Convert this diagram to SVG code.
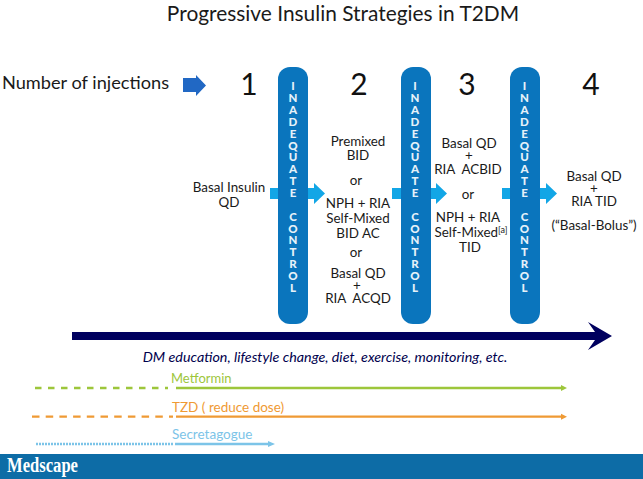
<svg xmlns="http://www.w3.org/2000/svg" width="643" height="479" viewBox="0 0 643 479">
<style>
text{font-family:"Lato","Open Sans",sans-serif;fill:#1a1a1a}
.b{font-size:13.400px;text-anchor:middle}
.n{font-size:30px;text-anchor:middle;fill:#111}
.pill{fill:#0a75bd}
.pl{font-size:11.500px;font-weight:900;fill:#e6f1f9;text-anchor:middle}
.ar{fill:#12a6e6}
.lab{font-size:13.500px}
</style>
<rect width="643" height="479" fill="#fff"/>
<text x="343" y="21" font-size="20.900" text-anchor="middle" id="title">Progressive Insulin Strategies in T2DM</text>
<text x="2" y="89" font-size="18.200">Number of injections</text>
<path d="M183 78H196V75L206 85.500L196 96V92H183Z" fill="#2168c4"/>
<g id="numbers"><text class="n" x="249" y="95">1</text><text class="n" x="359" y="95">2</text><text class="n" x="467" y="95">3</text><text class="n" x="591" y="95">4</text></g>
<g id="connectors">
<rect class="ar" x="270" y="188" width="9" height="11"/><path class="ar" d="M308 188H314V183L325 193.500L314 204V199H308Z"/>
<rect class="ar" x="392" y="188" width="10" height="11"/><path class="ar" d="M431 188H436V183L447 193.500L436 204V199H431Z"/>
<rect class="ar" x="502" y="188" width="9" height="11"/><path class="ar" d="M540 188H546V183L557 193.500L546 204V199H540Z"/>
<path id="timeline" d="M72 332H595L588 322L612 336L588 350L595 340H72Z" fill="#00005f"/>
<g fill="none" stroke-width="2.300">
<path d="M35 388H168" stroke="#9dc63b" stroke-dasharray="6.500 6.500"/><path d="M176 388H562" stroke="#9dc63b"/><path d="M561 385L567 388L561 391Z" fill="#9dc63b"/>
<path d="M32 416.700H173" stroke="#ef9a34" stroke-dasharray="7.500 6.200"/><path d="M176 416.700H562" stroke="#ef9a34"/><path d="M561 413.700L567 416.700L561 419.700Z" fill="#ef9a34"/>
<path d="M36 444H174" stroke="#7cc4e8" stroke-dasharray="2 1"/><path d="M175 444H270" stroke="#7cc4e8"/><path d="M268 441L275 444L268 447Z" fill="#7cc4e8"/>
</g>
</g>
<g id="control1"><rect class="pill" x="278" y="67" width="30" height="257" rx="12"/><text class="pl" y="90"><tspan x="293">I</tspan><tspan x="293" dy="11.900">N</tspan><tspan x="293" dy="11.900">A</tspan><tspan x="293" dy="11.900">D</tspan><tspan x="293" dy="11.900">E</tspan><tspan x="293" dy="11.900">Q</tspan><tspan x="293" dy="11.900">U</tspan><tspan x="293" dy="11.900">A</tspan><tspan x="293" dy="11.900">T</tspan><tspan x="293" dy="11.900">E</tspan><tspan x="293" dy="23.500">C</tspan><tspan x="293" dy="11.900">O</tspan><tspan x="293" dy="11.900">N</tspan><tspan x="293" dy="11.900">T</tspan><tspan x="293" dy="11.900">R</tspan><tspan x="293" dy="11.900">O</tspan><tspan x="293" dy="11.900">L</tspan></text></g>
<g id="control2"><rect class="pill" x="401" y="67" width="30" height="257" rx="12"/><text class="pl" y="90"><tspan x="415">I</tspan><tspan x="415" dy="11.900">N</tspan><tspan x="415" dy="11.900">A</tspan><tspan x="415" dy="11.900">D</tspan><tspan x="415" dy="11.900">E</tspan><tspan x="415" dy="11.900">Q</tspan><tspan x="415" dy="11.900">U</tspan><tspan x="415" dy="11.900">A</tspan><tspan x="415" dy="11.900">T</tspan><tspan x="415" dy="11.900">E</tspan><tspan x="415" dy="23.500">C</tspan><tspan x="415" dy="11.900">O</tspan><tspan x="415" dy="11.900">N</tspan><tspan x="415" dy="11.900">T</tspan><tspan x="415" dy="11.900">R</tspan><tspan x="415" dy="11.900">O</tspan><tspan x="415" dy="11.900">L</tspan></text></g>
<g id="control3"><rect class="pill" x="510" y="67" width="30" height="257" rx="12"/><text class="pl" y="90"><tspan x="524.500">I</tspan><tspan x="524.500" dy="11.900">N</tspan><tspan x="524.500" dy="11.900">A</tspan><tspan x="524.500" dy="11.900">D</tspan><tspan x="524.500" dy="11.900">E</tspan><tspan x="524.500" dy="11.900">Q</tspan><tspan x="524.500" dy="11.900">U</tspan><tspan x="524.500" dy="11.900">A</tspan><tspan x="524.500" dy="11.900">T</tspan><tspan x="524.500" dy="11.900">E</tspan><tspan x="524.500" dy="23.500">C</tspan><tspan x="524.500" dy="11.900">O</tspan><tspan x="524.500" dy="11.900">N</tspan><tspan x="524.500" dy="11.900">T</tspan><tspan x="524.500" dy="11.900">R</tspan><tspan x="524.500" dy="11.900">O</tspan><tspan x="524.500" dy="11.900">L</tspan></text></g>
<g id="step1"><text class="b" y="192"><tspan x="229">Basal Insulin</tspan><tspan x="229" dy="15">QD</tspan></text></g>
<g id="step2"><text class="b" xml:space="preserve" y="146"><tspan x="358">Premixed</tspan><tspan x="358" y="160">BID</tspan><tspan x="356" y="185">or</tspan><tspan x="358" y="208">NPH + RIA</tspan><tspan x="358" y="223">Self-Mixed</tspan><tspan x="358" y="238">BID AC</tspan><tspan x="356" y="257">or</tspan><tspan x="358" y="278">Basal QD</tspan><tspan x="357" y="290">+</tspan><tspan x="358" y="303">RIA  ACQD</tspan></text></g>
<g id="step3"><text class="b" xml:space="preserve" y="148"><tspan x="469">Basal QD</tspan><tspan x="469" y="160">+</tspan><tspan x="468" y="174">RIA  ACBID</tspan><tspan x="468" y="199">or</tspan><tspan x="468" y="222">NPH + RIA</tspan><tspan x="471" y="237">Self-Mixed<tspan font-size="9" dy="-4">[a]</tspan></tspan><tspan x="470" y="252">TID</tspan></text></g>
<g id="step4"><text class="b" y="181"><tspan x="594">Basal QD</tspan><tspan x="594" y="193">+</tspan><tspan x="594" y="206">RIA TID</tspan><tspan x="594" y="230">(“Basal-Bolus”)</tspan></text></g>
<text x="325" y="362" font-size="14.300" font-style="italic" text-anchor="middle" style="fill:#00004d">DM education, lifestyle change, diet, exercise, monitoring, etc.</text>
<g id="drugs">
<text class="lab" x="171" y="383" style="fill:#9dc63b;font-size:13px">Metformin</text>
<text class="lab" x="172" y="412" style="fill:#ef9a34">TZD ( reduce dose)</text>
<text class="lab" x="172" y="439" style="fill:#7cc4e8">Secretagogue</text>
</g>
<g id="footer"><rect y="454" width="643" height="25" fill="#0d6ca6"/><text x="7" y="472" font-size="20" font-weight="700" textLength="71" lengthAdjust="spacingAndGlyphs" style="font-family:'Liberation Serif',serif;fill:#fff">Medscape</text></g>
</svg>
